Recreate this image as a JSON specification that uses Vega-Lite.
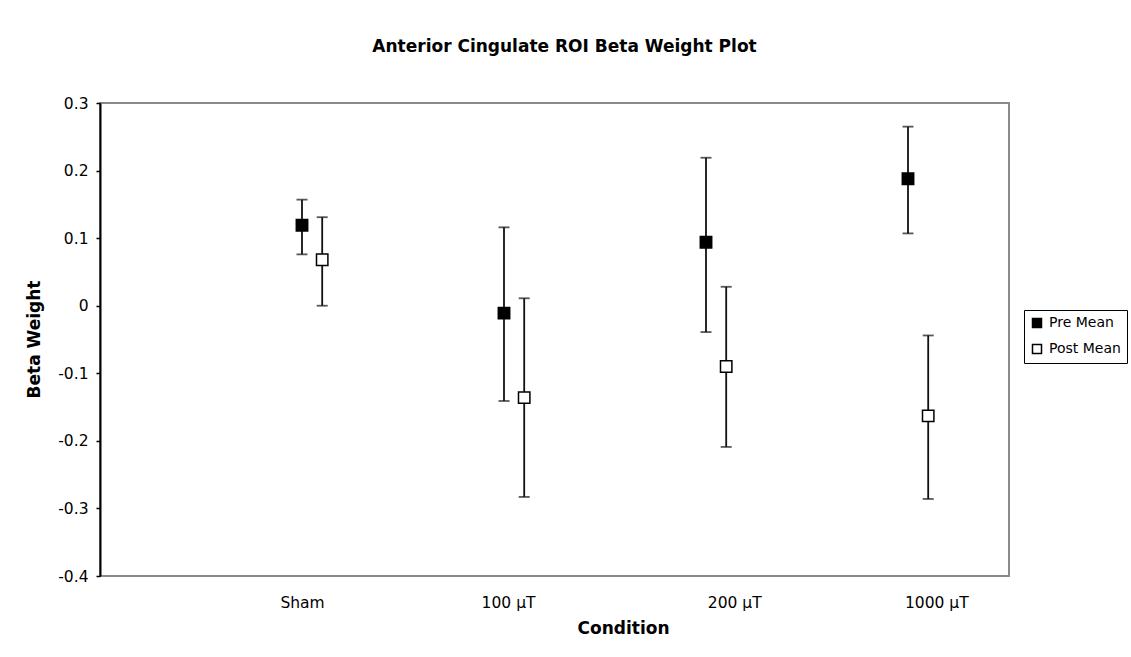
{
  "$schema": "https://vega.github.io/schema/vega-lite/v6.json",
  "width": 909,
  "height": 473,
  "autosize": {"type": "none"},
  "padding": {"left": 100, "top": 103, "right": 122, "bottom": 81},
  "background": "white",
  "title": {
    "text": "Anterior Cingulate ROI Beta Weight Plot",
    "font": "DejaVu Sans",
    "fontSize": 17,
    "fontWeight": "bold",
    "color": "black",
    "anchor": "middle",
    "dx": 10,
    "offset": 40
  },
  "data": {
    "values": [
      {"condition": "Sham", "series": "Pre Mean", "x": 1, "mean": 0.119, "low": 0.076, "high": 0.157},
      {"condition": "Sham", "series": "Post Mean", "x": 1.1, "mean": 0.068, "low": 0.0, "high": 0.131},
      {"condition": "100 µT", "series": "Pre Mean", "x": 2, "mean": -0.011, "low": -0.141, "high": 0.116},
      {"condition": "100 µT", "series": "Post Mean", "x": 2.1, "mean": -0.136, "low": -0.283, "high": 0.011},
      {"condition": "200 µT", "series": "Pre Mean", "x": 3, "mean": 0.094, "low": -0.039, "high": 0.219},
      {"condition": "200 µT", "series": "Post Mean", "x": 3.1, "mean": -0.09, "low": -0.209, "high": 0.028},
      {"condition": "1000 µT", "series": "Pre Mean", "x": 4, "mean": 0.188, "low": 0.107, "high": 0.265},
      {"condition": "1000 µT", "series": "Post Mean", "x": 4.1, "mean": -0.163, "low": -0.286, "high": -0.044}
    ]
  },
  "encoding": {
    "x": {
      "field": "x",
      "type": "quantitative",
      "scale": {"domain": [0, 4.5], "nice": false, "zero": false},
      "axis": {
        "values": [1, 2.02, 3.14, 4.14],
        "labelExpr": "datum.value < 1.5 ? 'Sham' : datum.value < 2.5 ? '100 µT' : datum.value < 3.5 ? '200 µT' : '1000 µT'",
        "ticks": false,
        "domain": false,
        "grid": false,
        "labelPadding": 19,
        "title": "Condition",
        "titleX": 523,
        "titleY": 52,
        "titleBaseline": "middle"
      }
    }
  },
  "layer": [
    {
      "mark": {"type": "rule", "color": "#111111", "strokeWidth": 1.8},
      "encoding": {
        "y": {"field": "low", "type": "quantitative", "scale": {"domain": [-0.4, 0.3], "nice": false, "zero": false}},
        "y2": {"field": "high"}
      }
    },
    {
      "mark": {"type": "tick", "orient": "horizontal", "size": 11, "thickness": 1.8, "color": "#111111"},
      "encoding": {"y": {"field": "low", "type": "quantitative"}}
    },
    {
      "mark": {"type": "tick", "orient": "horizontal", "size": 11, "thickness": 1.8, "color": "#111111"},
      "encoding": {"y": {"field": "high", "type": "quantitative"}}
    },
    {
      "mark": {"type": "point", "shape": "square", "filled": true, "size": 130, "stroke": "black", "strokeWidth": 1.5, "opacity": 1},
      "encoding": {
        "y": {
          "field": "mean",
          "type": "quantitative",
          "axis": {
            "values": [-0.4, -0.3, -0.2, -0.1, 0, 0.1, 0.2, 0.3],
            "labelExpr": "datum.value == 0 ? '0' : replace(format(datum.value, '.1f'), '−', '-')",
            "tickSize": 4,
            "tickWidth": 1.5,
            "tickColor": "black",
            "domainColor": "black",
            "domainWidth": 2,
            "grid": false,
            "labelPadding": 8,
            "title": "Beta Weight",
            "titleX": -66,
            "titleY": 236,
            "titleBaseline": "middle"
          }
        },
        "fill": {
          "field": "series",
          "type": "nominal",
          "scale": {"domain": ["Pre Mean", "Post Mean"], "range": ["black", "white"]},
          "legend": {
            "orient": "none",
            "legendX": 924,
            "legendY": 207,
            "title": null,
            "strokeColor": "black",
            "fillColor": "white",
            "padding": 6,
            "labelFontSize": 14,
            "labelFont": "DejaVu Sans",
            "labelColor": "black",
            "symbolType": "square",
            "symbolSize": 81,
            "symbolStrokeColor": "black",
            "symbolStrokeWidth": 1.5,
            "rowPadding": 10,
            "labelOffset": 5
          }
        }
      }
    }
  ],
  "config": {
    "font": "DejaVu Sans",
    "view": {"stroke": "#8a8a8a", "strokeWidth": 2},
    "axis": {
      "labelFont": "DejaVu Sans",
      "labelFontSize": 15.5,
      "labelColor": "black",
      "titleFont": "DejaVu Sans",
      "titleFontSize": 17,
      "titleFontWeight": "bold",
      "titleColor": "black"
    }
  }
}
